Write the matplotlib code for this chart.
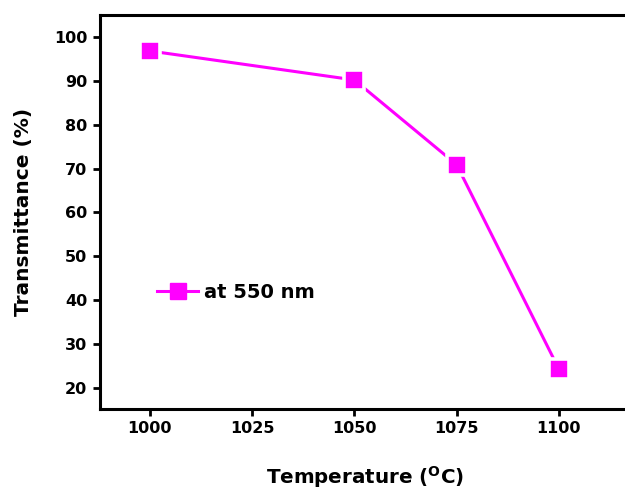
import matplotlib
matplotlib.use("Agg")
import matplotlib.pyplot as plt
from matplotlib.lines import Line2D

# data
temperature = [1000, 1050, 1075, 1100]
transmittance = [96.8, 90.2, 70.9, 24.3]
y_ticks = [20, 30, 40, 50, 60, 70, 80, 90, 100]
x_ticks = [1000, 1025, 1050, 1075, 1100]
series_label = 'at 550 nm'

plt.rcParams['font.family'] = ['DejaVu Sans']
plt.rcParams['font.weight'] = 'bold'
plt.rcParams['mathtext.fontset'] = 'custom'
plt.rcParams['mathtext.rm'] = 'DejaVu Sans:bold'

colour = '#ff00ff'

fig = plt.figure(figsize=(6.25, 4.92), dpi=100)
ax = fig.add_axes([0.16, 0.1687, 0.848, 0.8008])

# line first, then markers with a white rim so the line stops short of them
ax.plot(temperature, transmittance, color=colour, lw=2.2, zorder=2)
ax.plot(temperature, transmittance, ls='none', marker='s', ms=14,
        mfc=colour, mec='white', mew=2.6, zorder=3)

ax.set_xlim(987.8, 1117.4)
ax.set_ylim(15.2, 105)
ax.set_xticks(x_ticks)
ax.set_yticks(y_ticks)

for side in ['left', 'bottom', 'top', 'right']:
    ax.spines[side].set_linewidth(2.2)
ax.tick_params(direction='out', length=5, width=2, labelsize=11.5, pad=4)
for lab in ax.get_xticklabels() + ax.get_yticklabels():
    lab.set_fontweight('bold')

ax.set_xlabel(r'Temperature ($^{\mathrm{O}}$C)', fontsize=14.3, fontweight='bold',
              labelpad=20)
ax.set_ylabel('Transmittance (%)', fontsize=14.5, fontweight='bold', labelpad=15)

handle = Line2D([], [], color=colour, lw=2.2, marker='s', ms=11, mfc=colour, mec=colour)
ax.legend([handle], [series_label], loc='center left', bbox_to_anchor=(0.075, 0.295),
          frameon=False, handlelength=2.1, handletextpad=0.3,
          prop={'size': 14, 'weight': 'bold'})

fig.savefig('out.png', dpi=100)
